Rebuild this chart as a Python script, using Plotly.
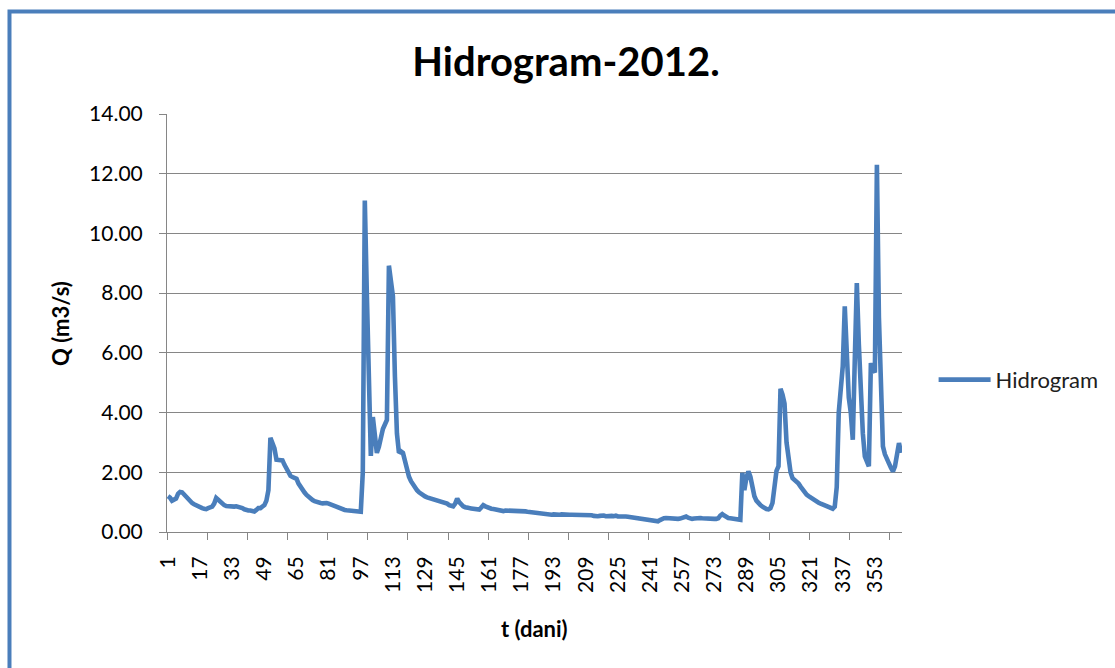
import plotly.graph_objects as go

# Daily discharge Q (m3/s), year 2012 (366 days)
q_jan = [1.20, 1.15, 1.05, 1.07, 1.12, 1.28, 1.34, 1.33, 1.25, 1.18,
         1.10, 1.02, 0.97, 0.93, 0.89, 0.86, 0.83, 0.80, 0.78, 0.77,
         0.80, 0.82, 0.85, 0.95, 1.14, 1.08, 1.00, 0.95, 0.90, 0.87,
         0.86]
q_feb = [0.86, 0.85, 0.85, 0.86, 0.85, 0.83, 0.80, 0.76, 0.73,
         0.72, 0.72, 0.71, 0.69, 0.74, 0.80, 0.80, 0.84, 0.90, 1.05,
         1.40, 3.15, 3.00, 2.80, 2.42, 2.40, 2.42, 2.40, 2.25, 2.10]
q_mar = [1.98, 1.88, 1.84, 1.82, 1.78, 1.62, 1.50, 1.42, 1.32, 1.24,
         1.17, 1.12, 1.07, 1.03, 1.00, 0.97, 0.97, 0.96, 0.97, 0.97,
         0.95, 0.92, 0.88, 0.86, 0.83, 0.80, 0.78, 0.76, 0.74, 0.73,
         0.72]
q_apr = [0.71, 0.71, 0.70, 0.70, 0.69, 0.68, 2.00, 11.10, 8.00,
         5.30, 2.55, 3.85, 3.20, 2.65, 2.85, 3.20, 3.45, 3.60, 3.75,
         8.92, 8.40, 7.90, 5.20, 3.30, 2.65, 2.70, 2.65, 2.35, 2.05,
         1.85]
q_may = [1.70, 1.58, 1.48, 1.40, 1.33, 1.27, 1.22, 1.19, 1.16,
         1.14, 1.12, 1.10, 1.08, 1.05, 1.02, 0.99, 0.98, 0.97, 0.95,
         0.90, 0.87, 0.86, 0.95, 1.12, 1.00, 0.91, 0.86, 0.83, 0.80,
         0.80, 0.79]
q_jun = [0.78, 0.77, 0.76, 0.75, 0.82, 0.90, 0.86, 0.82,
         0.80, 0.78, 0.77, 0.75, 0.73, 0.70, 0.68, 0.70, 0.72, 0.72,
         0.71, 0.70, 0.70, 0.70, 0.70, 0.70, 0.70, 0.69, 0.69, 0.68,
         0.67, 0.66]
q_jul = [0.65, 0.64, 0.63, 0.62, 0.60, 0.59, 0.58, 0.58,
         0.58, 0.58, 0.59, 0.58, 0.58, 0.58, 0.59, 0.58, 0.58, 0.58,
         0.58, 0.58, 0.58, 0.59, 0.58, 0.58, 0.58, 0.58, 0.58, 0.58,
         0.58, 0.56, 0.54]
q_aug = [0.52, 0.53, 0.54, 0.55, 0.55, 0.53, 0.54,
         0.55, 0.54, 0.53, 0.55, 0.52, 0.53, 0.52, 0.52, 0.52, 0.51,
         0.50, 0.50, 0.48, 0.46, 0.44, 0.43, 0.42, 0.41, 0.41, 0.40,
         0.40, 0.38, 0.37, 0.36]
q_sep = [0.36, 0.40, 0.44, 0.46, 0.47, 0.46,
         0.46, 0.45, 0.44, 0.44, 0.44, 0.45, 0.47, 0.50, 0.52, 0.48,
         0.45, 0.44, 0.45, 0.47, 0.48, 0.47, 0.46, 0.45, 0.44, 0.44,
         0.44, 0.44, 0.44, 0.44]
q_oct = [0.46, 0.55, 0.60, 0.55, 0.50, 0.47,
         0.46, 0.45, 0.43, 0.42, 0.41, 0.41, 1.98, 1.40, 1.81, 2.03,
         1.85, 1.45, 1.20, 1.05, 0.95, 0.90, 0.85, 0.80, 0.77, 0.76,
         0.80, 0.97, 1.70, 2.05, 2.20]
q_nov = [4.80, 4.60, 4.30, 3.00, 2.30,
         2.00, 1.80, 1.75, 1.68, 1.62, 1.52, 1.42, 1.33, 1.25, 1.20,
         1.15, 1.10, 1.05, 1.02, 0.98, 0.95, 0.92, 0.88, 0.85, 0.83,
         0.80, 0.78, 0.85, 1.50, 4.00]
q_dec = [4.80, 5.55, 7.56, 5.50, 4.50,
         4.00, 3.09, 5.80, 8.34, 6.30, 4.32, 3.30, 2.53, 2.30, 2.20,
         5.66, 5.38, 5.40, 12.30, 7.20, 4.50, 2.87, 2.60, 2.40, 2.30,
         2.15, 2.03, 2.20, 2.70, 2.98, 2.65]

q_values = (q_jan + q_feb + q_mar + q_apr + q_may + q_jun +
            q_jul + q_aug + q_sep + q_oct + q_nov + q_dec)
days = list(range(1, len(q_values) + 1))

x_tick_labels = list(range(1, 367, 16))           # 1, 17, ..., 353
x_tick_marks = [0.5 + 20 * k for k in range(19)]  # Excel tick marks every 20 categories
y_tick_vals = [0, 2, 4, 6, 8, 10, 12, 14]
y_tick_text = ["%.2f" % v for v in y_tick_vals]

FONT = "Lato"
BLUE = "#4A7EBB"
GRID = "#868686"

fig = go.Figure()
fig.add_trace(go.Scatter(
    x=days, y=q_values, mode="lines", name="Hidrogram",
    line=dict(color=BLUE, width=4.6),
))

fig.update_layout(
    width=1115, height=668,
    margin=dict(l=167, r=213, t=114, b=136, autoexpand=False),
    paper_bgcolor="white", plot_bgcolor="white",
    font=dict(family=FONT, color="#000000"),
    title=dict(text="<b>Hidrogram-2012.</b>", x=0.5076, y=0.907,
               xanchor="center", yanchor="middle",
               font=dict(family=FONT, size=40, color="#000000")),
    showlegend=True,
    legend=dict(x=1.043, y=0.364, xanchor="left", yanchor="middle",
                font=dict(family=FONT, size=22, color="#202020"),
                itemwidth=52, bgcolor="rgba(0,0,0,0)",
                tracegroupgap=0),
    xaxis=dict(
        range=[0.5, 366.5], tickmode="array", tickvals=x_tick_labels,
        ticktext=[str(v) for v in x_tick_labels], tickangle=-90,
        ticks="outside", ticklen=7, tickcolor="rgba(0,0,0,0)",
        ticklabelstandoff=8,
        tickfont=dict(family=FONT, size=21, color="#000000"),
        showgrid=False, zeroline=False,
        showline=True, linecolor=GRID, linewidth=1,
        minor=dict(tickmode="array", tickvals=x_tick_marks, ticks="outside",
                   ticklen=7, tickcolor=GRID, tickwidth=1, showgrid=False),
    ),
    yaxis=dict(
        range=[0, 14], tickmode="array", tickvals=y_tick_vals,
        ticktext=y_tick_text,
        ticks="outside", ticklen=7, tickcolor=GRID, tickwidth=1,
        ticklabelstandoff=12,
        tickfont=dict(family=FONT, size=21, color="#000000"),
        showgrid=True, gridcolor=GRID, gridwidth=1, zeroline=False,
        showline=True, linecolor=GRID, linewidth=1,
    ),
    annotations=[
        dict(text="<b>Q (m3/s)</b>", xref="paper", yref="paper",
             x=-0.1456, y=0.5, textangle=-90, showarrow=False,
             xanchor="center", yanchor="middle",
             font=dict(family=FONT, size=22, color="#000000")),
        dict(text="<b>t (dani)</b>", xref="paper", yref="paper",
             x=0.5, y=-0.2297, showarrow=False,
             xanchor="center", yanchor="middle",
             font=dict(family=FONT, size=22, color="#000000")),
    ],
    shapes=[
        dict(type="rect", xref="paper", yref="paper",
             x0=-0.2143, y0=-0.40, x1=1.32, y1=1.2452,
             line=dict(color=BLUE, width=4), fillcolor="rgba(0,0,0,0)",
             layer="above"),
    ],
)

# remove the default 8 px page margin so the 1115x668 figure fills the window
fig.write_html(
    "out.html",
    config={"displayModeBar": False},
    post_script="document.body.style.margin='0';document.body.style.overflow='hidden';",
)
